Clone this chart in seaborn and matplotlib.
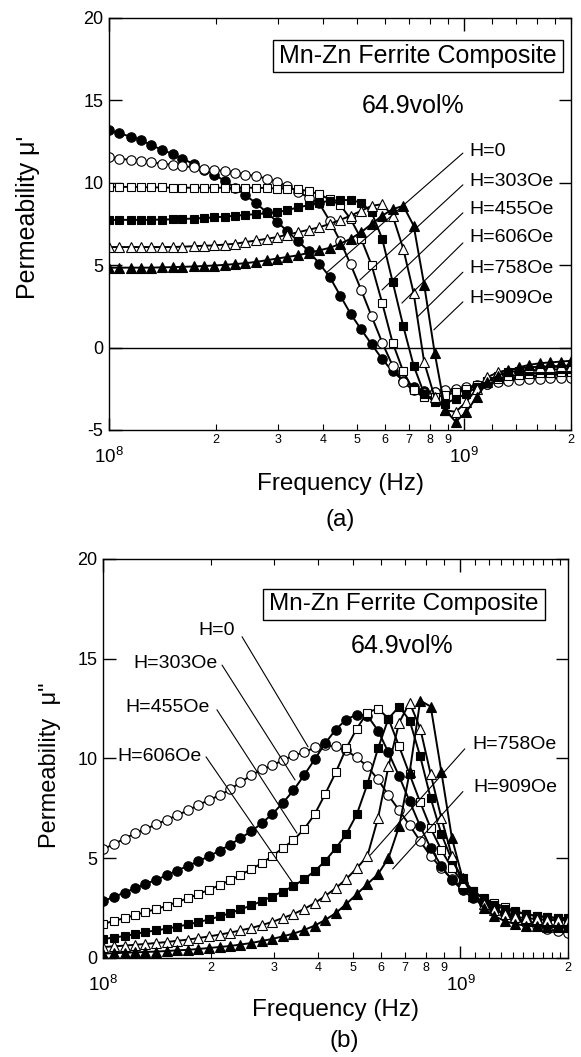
import matplotlib
matplotlib.use("Agg")
import matplotlib.pyplot as plt
import matplotlib.ticker as mticker
from matplotlib.patches import Rectangle
import numpy as np
import seaborn as sns

# ---------------- data ----------------
FREQ_MHZ = [100, 107, 115, 123, 131, 141, 151, 161, 173, 185, 198, 212, 227, 242, 260,
            278, 297, 318, 341, 365, 391, 418, 448, 479, 513, 549, 588, 629, 674, 721,
            772, 826, 885, 947, 1014, 1085, 1162, 1244, 1331, 1425, 1525, 1633, 1748, 1871, 2000]

H_LABELS = ["H=0", "H=303Oe", "H=455Oe", "H=606Oe", "H=758Oe", "H=909Oe"]

# (a) real part mu'
MU1_H0 = [13.2, 13.0, 12.8, 12.6, 12.3, 12.0, 11.75, 11.45, 11.15, 10.8, 10.5, 10.1, 9.7, 9.25, 8.75,
          8.2, 7.65, 7.05, 6.45, 5.85, 5.1, 4.3, 3.15, 2.05, 1.1, 0.2, -0.7, -1.45, -2.0, -2.4,
          -2.65, -2.7, -2.7, -2.6, -2.5, -2.35, -2.2, -2.05, -1.9, -1.8, -1.75, -1.7, -1.65, -1.6, -1.6]
MU1_H303 = [11.55, 11.45, 11.4, 11.3, 11.25, 11.15, 11.1, 11.0, 10.95, 10.85, 10.8, 10.7, 10.6, 10.5, 10.4,
            10.25, 10.05, 9.8, 9.45, 9.1, 8.75, 7.7, 6.45, 5.05, 3.5, 1.9, 0.3, -1.1, -2.1, -2.6,
            -2.75, -2.7, -2.6, -2.5, -2.4, -2.3, -2.2, -2.1, -2.0, -1.95, -1.9, -1.9, -1.85, -1.85, -1.85]
MU1_H455 = [9.75, 9.75, 9.75, 9.75, 9.72, 9.72, 9.7, 9.7, 9.7, 9.7, 9.7, 9.7, 9.7, 9.7, 9.7,
            9.68, 9.65, 9.65, 9.6, 9.5, 9.3, 9.0, 8.65, 7.8, 6.6, 5.0, 2.7, 0.3, -1.45, -2.6,
            -3.0, -3.0, -2.9, -2.7, -2.5, -2.3, -2.1, -1.9, -1.75, -1.65, -1.6, -1.55, -1.55, -1.5, -1.5]
MU1_H606 = [7.75, 7.75, 7.75, 7.75, 7.75, 7.77, 7.78, 7.8, 7.83, 7.86, 7.9, 7.95, 8.0, 8.05, 8.1,
            8.15, 8.2, 8.35, 8.5, 8.65, 8.8, 8.9, 8.95, 8.95, 8.8, 8.2, 6.6, 4.0, 1.3, -1.1,
            -2.8, -3.3, -3.4, -3.1, -2.8, -2.4, -2.0, -1.7, -1.5, -1.4, -1.4, -1.35, -1.35, -1.3, -1.3]
MU1_H758 = [6.1, 6.1, 6.1, 6.1, 6.1, 6.1, 6.1, 6.12, 6.15, 6.18, 6.2, 6.25, 6.3, 6.4, 6.5,
            6.6, 6.7, 6.85, 7.0, 7.15, 7.3, 7.5, 7.75, 8.0, 8.3, 8.6, 8.7, 8.0, 6.0, 3.3,
            -0.9, -3.0, -3.8, -3.9, -3.3, -2.5, -1.8, -1.5, -1.35, -1.25, -1.2, -1.15, -1.15, -1.1, -1.1]
MU1_H909 = [4.85, 4.85, 4.85, 4.85, 4.85, 4.87, 4.88, 4.9, 4.92, 4.95, 4.98, 5.02, 5.07, 5.12, 5.2,
            5.3, 5.4, 5.5, 5.6, 5.75, 5.9, 6.05, 6.3, 6.6, 7.0, 7.5, 8.0, 8.4, 8.6, 7.4,
            3.8, -0.3, -3.8, -4.5, -3.9, -3.0, -2.1, -1.7, -1.45, -1.2, -1.05, -0.95, -0.9, -0.85, -0.8]

# (b) imaginary part mu''
MU2_H0 = [5.45, 5.7, 5.98, 6.25, 6.45, 6.7, 6.93, 7.15, 7.4, 7.67, 7.92, 8.15, 8.45, 8.8, 9.15,
          9.45, 9.65, 9.9, 10.15, 10.3, 10.55, 10.65, 10.6, 10.4, 10.05, 9.6, 8.95, 8.15, 7.4, 6.65,
          5.85, 5.1, 4.5, 3.95, 3.5, 3.15, 2.8, 2.5, 2.2, 1.95, 1.75, 1.6, 1.45, 1.35, 1.25]
MU2_H303 = [2.85, 3.05, 3.28, 3.5, 3.7, 3.92, 4.15, 4.38, 4.62, 4.85, 5.1, 5.38, 5.68, 6.0, 6.35,
            6.75, 7.2, 7.75, 8.4, 9.15, 9.95, 10.75, 11.45, 11.95, 12.2, 12.15, 11.4, 10.3, 9.1, 7.85,
            6.6, 5.5, 4.6, 3.9, 3.4, 3.0, 2.7, 2.45, 2.2, 2.0, 1.85, 1.75, 1.65, 1.6, 1.55]
MU2_H455 = [1.7, 1.85, 2.0, 2.15, 2.3, 2.45, 2.62, 2.8, 3.0, 3.2, 3.42, 3.65, 3.9, 4.15, 4.45,
            4.75, 5.1, 5.5, 5.9, 6.45, 7.2, 8.2, 9.3, 10.5, 11.5, 12.3, 12.5, 12.0, 10.6, 9.2,
            7.8, 6.5, 5.4, 4.5, 3.8, 3.35, 3.0, 2.75, 2.55, 2.35, 2.2, 2.1, 2.05, 2.0, 1.95]
MU2_H606 = [0.95, 1.02, 1.1, 1.2, 1.3, 1.38, 1.47, 1.57, 1.68, 1.8, 1.93, 2.08, 2.25, 2.43, 2.63,
            2.85, 3.08, 3.33, 3.6, 3.95, 4.35, 4.85, 5.5, 6.2, 7.2, 8.7, 10.5, 12.0, 12.6, 11.9,
            10.1, 8.0, 6.2, 4.9, 4.0, 3.35, 2.95, 2.65, 2.45, 2.3, 2.2, 2.1, 2.05, 2.0, 2.0]
MU2_H758 = [0.55, 0.58, 0.62, 0.66, 0.7, 0.75, 0.8, 0.86, 0.92, 1.0, 1.08, 1.17, 1.27, 1.38, 1.5,
            1.65, 1.8, 2.0, 2.2, 2.45, 2.75, 3.1, 3.5, 3.95, 4.5, 5.1, 7.0, 9.6, 11.8, 12.8,
            11.5, 9.2, 7.0, 5.1, 3.75, 3.1, 2.7, 2.4, 2.2, 2.05, 2.0, 1.95, 1.9, 1.9, 1.9]
MU2_H909 = [0.22, 0.24, 0.26, 0.28, 0.3, 0.32, 0.35, 0.38, 0.41, 0.45, 0.5, 0.55, 0.6, 0.67, 0.75,
            0.85, 0.95, 1.08, 1.22, 1.4, 1.62, 1.9, 2.25, 2.7, 3.2, 3.7, 4.2, 5.0, 6.6, 9.3,
            12.9, 12.6, 9.3, 6.0, 4.0, 3.1, 2.5, 2.1, 1.85, 1.7, 1.62, 1.58, 1.55, 1.55, 1.55]

MAJOR_TICKS = [1e8, 1e9]
MAJOR_LABELS = [r"$\mathregular{10^{8}}$", r"$\mathregular{10^{9}}$"]
MINOR_TICKS_A = [2e8, 3e8, 4e8, 5e8, 6e8, 7e8, 8e8, 9e8, 1.2e9, 1.4e9, 1.6e9, 1.8e9, 2e9]
MINOR_LABELS_A = ["2", "3", "4", "5", "6", "7", "8", "9", "", "", "", "", "2"]
MINOR_TICKS_B = [2e8, 3e8, 4e8, 5e8, 6e8, 7e8, 8e8, 9e8, 1.1e9, 1.2e9, 1.3e9, 1.4e9, 1.5e9,
                 1.6e9, 1.7e9, 1.8e9, 1.9e9, 2e9]
MINOR_LABELS_B = ["2", "3", "4", "5", "6", "7", "8", "9", "", "", "", "", "", "", "", "", "", "2"]
YTICKS_A = [-5, 0, 5, 10, 15, 20]
YTICKS_B = [0, 5, 10, 15, 20]

TITLE_BOX = "Mn-Zn Ferrite Composite"
VOL_TEXT = "64.9vol%"
XLABEL = "Frequency (Hz)"
YLABEL_A = "Permeability μ'"
YLABEL_B = "Permeability  μ\""

# ---------------- style ----------------
sns.set_theme(style="ticks")
plt.rcParams["font.family"] = ["Liberation Sans", "DejaVu Sans"]
plt.rcParams["mathtext.fontset"] = "custom"
plt.rcParams["mathtext.rm"] = "Liberation Sans"
plt.rcParams["axes.edgecolor"] = "black"
plt.rcParams["axes.linewidth"] = 1.0
plt.rcParams["xtick.color"] = "black"
plt.rcParams["ytick.color"] = "black"
plt.rcParams["text.color"] = "black"
plt.rcParams["axes.labelcolor"] = "black"

freq_hz = np.array(FREQ_MHZ, dtype=float) * 1e6

STYLE_A = [("o", True), ("o", False), ("s", False), ("s", True), ("^", False), ("^", True)]
STYLE_B = [("o", False), ("o", True), ("s", False), ("s", True), ("^", False), ("^", True)]
MS = {"o": 6.8, "s": 6.3, "^": 7.3}

fig = plt.figure(figsize=(5.81, 10.57), dpi=100)
ax1 = fig.add_axes([0.1876, 0.5932, 0.7952, 0.3898])
ax2 = fig.add_axes([0.1773, 0.0937, 0.8003, 0.3775])


def draw_series(ax, series, styles):
    for vals, (mk, filled) in zip(series, styles):
        sns.lineplot(x=freq_hz, y=np.array(vals), ax=ax, color="black", lw=1.4,
                     marker=mk, markersize=MS[mk],
                     markerfacecolor="black" if filled else "white",
                     markeredgecolor="black", markeredgewidth=0.8,
                     estimator=None, sort=False, legend=False)


def style_axes(ax, ylim, yticks, minor_ticks, minor_labels):
    ax.set_xscale("log")
    ax.set_xlim(1e8, 2e9)
    ax.set_ylim(*ylim)
    ax.xaxis.set_major_locator(mticker.FixedLocator(MAJOR_TICKS))
    ax.xaxis.set_minor_locator(mticker.FixedLocator(minor_ticks))
    ax.set_xticklabels(MAJOR_LABELS)
    ax.set_xticklabels(minor_labels, minor=True)
    ax.set_yticks(yticks)
    ax.set_yticklabels([str(v) for v in yticks])
    ax.yaxis.set_minor_locator(mticker.NullLocator())
    ax.tick_params(axis="both", which="both", direction="in", top=True, right=True)
    ax.tick_params(axis="y", which="major", length=9, width=1.0, labelsize=13, pad=4)
    ax.tick_params(axis="x", which="major", length=9, width=1.0, labelsize=13.5, pad=12)
    ax.tick_params(axis="x", which="minor", length=4, width=0.8, labelsize=9, pad=3)
    for s in ax.spines.values():
        s.set_linewidth(1.0)
        s.set_color("black")
    ax.grid(False)
    ax.set_facecolor("white")


# ---------- panel (a) ----------
draw_series(ax1, [MU1_H0, MU1_H303, MU1_H455, MU1_H606, MU1_H758, MU1_H909], STYLE_A)
ax1.axhline(0, color="black", lw=1.0, zorder=1)
style_axes(ax1, (-5, 20), YTICKS_A, MINOR_TICKS_A, MINOR_LABELS_A)
ax1.set_xlabel(XLABEL, fontsize=17.5)
ax1.xaxis.label.set_va("center")
ax1.xaxis.set_label_coords(0.5, -0.131)
ax1.set_ylabel(YLABEL_A, fontsize=18)
ax1.yaxis.label.set_va("center")
ax1.yaxis.set_label_coords(-0.175, 0.517)

ax1.add_patch(Rectangle((0.355, 0.869), 0.628, 0.0777, transform=ax1.transAxes,
                        fill=False, lw=1.0, ec="black", clip_on=False, zorder=5))
ax1.text(0.669, 0.908, TITLE_BOX, transform=ax1.transAxes, ha="center", va="center", fontsize=18)
ax1.text(0.658, 0.786, VOL_TEXT, transform=ax1.transAxes, ha="center", va="center", fontsize=18)

lab_y_a = [0.675, 0.602, 0.534, 0.466, 0.393, 0.318]
line_start_a = [(0.766, 0.672), (0.766, 0.595), (0.766, 0.527), (0.766, 0.454), (0.766, 0.383), (0.766, 0.311)]
line_end_a = [(0.472, 0.383), (0.543, 0.364), (0.591, 0.340), (0.634, 0.308), (0.667, 0.274), (0.703, 0.243)]
for lab, ly, st, en in zip(H_LABELS, lab_y_a, line_start_a, line_end_a):
    ax1.text(0.781, ly, lab, transform=ax1.transAxes, ha="left", va="center", fontsize=14)
    ax1.annotate("", xy=en, xytext=st, xycoords="axes fraction", textcoords="axes fraction",
                 arrowprops=dict(arrowstyle="-", lw=0.8, color="black", shrinkA=0, shrinkB=0))

# ---------- panel (b) ----------
draw_series(ax2, [MU2_H0, MU2_H303, MU2_H455, MU2_H606, MU2_H758, MU2_H909], STYLE_B)
style_axes(ax2, (0, 20), YTICKS_B, MINOR_TICKS_B, MINOR_LABELS_B)
ax2.set_xlabel(XLABEL, fontsize=17.5)
ax2.xaxis.label.set_va("center")
ax2.xaxis.set_label_coords(0.5, -0.130)
ax2.set_ylabel(YLABEL_B, fontsize=17)
ax2.yaxis.label.set_va("center")
ax2.yaxis.set_label_coords(-0.114, 0.484)

ax2.add_patch(Rectangle((0.344, 0.847), 0.607, 0.078, transform=ax2.transAxes,
                        fill=False, lw=1.0, ec="black", clip_on=False, zorder=5))
ax2.text(0.647, 0.886, TITLE_BOX, transform=ax2.transAxes, ha="center", va="center", fontsize=17.5)
ax2.text(0.643, 0.782, VOL_TEXT, transform=ax2.transAxes, ha="center", va="center", fontsize=18)

lab_pos_b = [(0.284, 0.820, "right"), (0.247, 0.739, "right"), (0.230, 0.627, "right"),
             (0.213, 0.506, "right"), (0.794, 0.534, "left"), (0.797, 0.426, "left")]
line_start_b = [(0.299, 0.805), (0.256, 0.734), (0.245, 0.622), (0.2215, 0.504), (0.778, 0.524), (0.774, 0.417)]
line_end_b = [(0.441, 0.529), (0.413, 0.446), (0.417, 0.313), (0.413, 0.180), (0.575, 0.258), (0.623, 0.223)]
for lab, (lx, ly, ha), st, en in zip(H_LABELS, lab_pos_b, line_start_b, line_end_b):
    ax2.text(lx, ly, lab, transform=ax2.transAxes, ha=ha, va="center", fontsize=14)
    ax2.annotate("", xy=en, xytext=st, xycoords="axes fraction", textcoords="axes fraction",
                 arrowprops=dict(arrowstyle="-", lw=0.8, color="black", shrinkA=0, shrinkB=0))

fig.text(0.585, 1 - 520 / 1057, "(a)", ha="center", va="center", fontsize=17.5)
fig.text(0.593, 1 - 1041 / 1057, "(b)", ha="center", va="center", fontsize=17.5)

fig.savefig("out.png", dpi=100, facecolor="white")
